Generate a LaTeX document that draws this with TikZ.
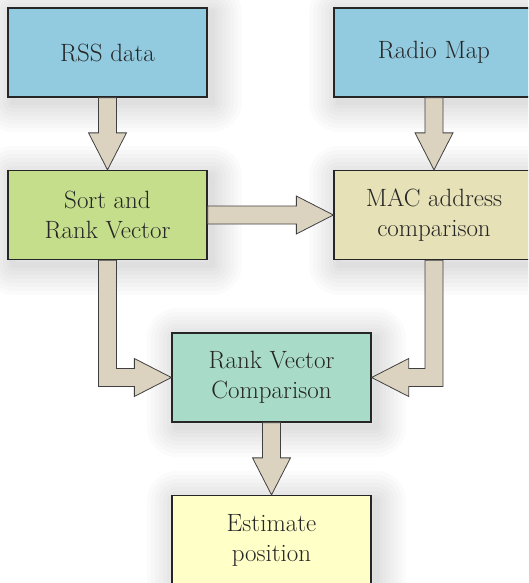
\documentclass[tikz,border=0pt]{standalone}
\usepackage{tikz}
\usetikzlibrary{calc}
\definecolor{boxblue}{HTML}{92CBDF}
\definecolor{boxgreen}{HTML}{C5DE8C}
\definecolor{boxkhaki}{HTML}{E6E1B6}
\definecolor{boxteal}{HTML}{A9DCC8}
\definecolor{boxyellow}{HTML}{FFFFC8}
\definecolor{arrowfill}{HTML}{DBD3C0}
\definecolor{textgray}{HTML}{262626}
\tikzset{halo/.style={preaction={draw=black, draw opacity=0.017, line width=#1, line join=round, transform canvas={shift={(5pt,-5pt)}}}}}
\tikzstyle{block} = [rectangle, draw=black!85, line width=1.3pt, minimum width=199pt, minimum height=89pt, inner sep=0pt, align=center, text=textgray, font=\fontsize{25}{30}\selectfont,
  halo=60pt, halo=52pt, halo=44pt, halo=36pt, halo=28pt, halo=20pt, halo=12pt, halo=6pt]
\tikzstyle{blkarrow} = [fill=arrowfill, draw=black!75, line width=0.8pt, line join=miter]
% block arrows between named nodes
\newcommand{\downblk}[2]{\draw[blkarrow] let \p1=(#1.south), \p2=(#2.north) in (\x1-9pt,\y1) -- (\x1-9pt,\y2+37pt) -- (\x1-19pt,\y2+37pt) -- (\x1,\y2) -- (\x1+19pt,\y2+37pt) -- (\x1+9pt,\y2+37pt) -- (\x1+9pt,\y1) -- cycle;}
\newcommand{\rightblk}[2]{\draw[blkarrow] let \p1=(#1.east), \p2=(#2.west) in (\x1,\y1+9pt) -- (\x2-37pt,\y1+9pt) -- (\x2-37pt,\y1+19pt) -- (\x2,\y1) -- (\x2-37pt,\y1-19pt) -- (\x2-37pt,\y1-9pt) -- (\x1,\y1-9pt) -- cycle;}
\newcommand{\elbowright}[2]{\draw[blkarrow] let \p1=(#1.south), \p2=(#2.west) in (\x1-9pt,\y1) -- (\x1-9pt,\y2-9pt) -- (\x2-37pt,\y2-9pt) -- (\x2-37pt,\y2-19pt) -- (\x2,\y2) -- (\x2-37pt,\y2+19pt) -- (\x2-37pt,\y2+9pt) -- (\x1+9pt,\y2+9pt) -- (\x1+9pt,\y1) -- cycle;}
\newcommand{\elbowleft}[2]{\draw[blkarrow] let \p1=(#1.south), \p2=(#2.east) in (\x1+9pt,\y1) -- (\x1+9pt,\y2-9pt) -- (\x2+37pt,\y2-9pt) -- (\x2+37pt,\y2-19pt) -- (\x2,\y2) -- (\x2+37pt,\y2+19pt) -- (\x2+37pt,\y2+9pt) -- (\x1-9pt,\y2+9pt) -- (\x1-9pt,\y1) -- cycle;}
\begin{document}
\begin{tikzpicture}[x=1pt, y=1pt]
  \useasboundingbox (0,0) rectangle (528,-583);
  \clip (0,0) rectangle (528,-583);
  \node [block, fill=boxblue] at (107.5,-52.5) (rss) {RSS data};
  \node [block, fill=boxblue, minimum width=200pt] at (434,-52.5) (radio) {Radio Map};
  \node [block, fill=boxgreen] at (107.5,-215) (sortrank) {Sort and\\Rank Vector};
  \node [block, fill=boxkhaki, minimum width=200pt] at (434,-215) (mac) {MAC address\\comparison};
  \node [block, fill=boxteal] at (271.5,-377.5) (rankcmp) {Rank Vector\\Comparison};
  \node [block, fill=boxyellow] at (271.5,-540) (estimate) {Estimate\\position};
  \downblk{rss}{sortrank}
  \downblk{radio}{mac}
  \rightblk{sortrank}{mac}
  \elbowright{sortrank}{rankcmp}
  \elbowleft{mac}{rankcmp}
  \downblk{rankcmp}{estimate}
\end{tikzpicture}
\end{document}
